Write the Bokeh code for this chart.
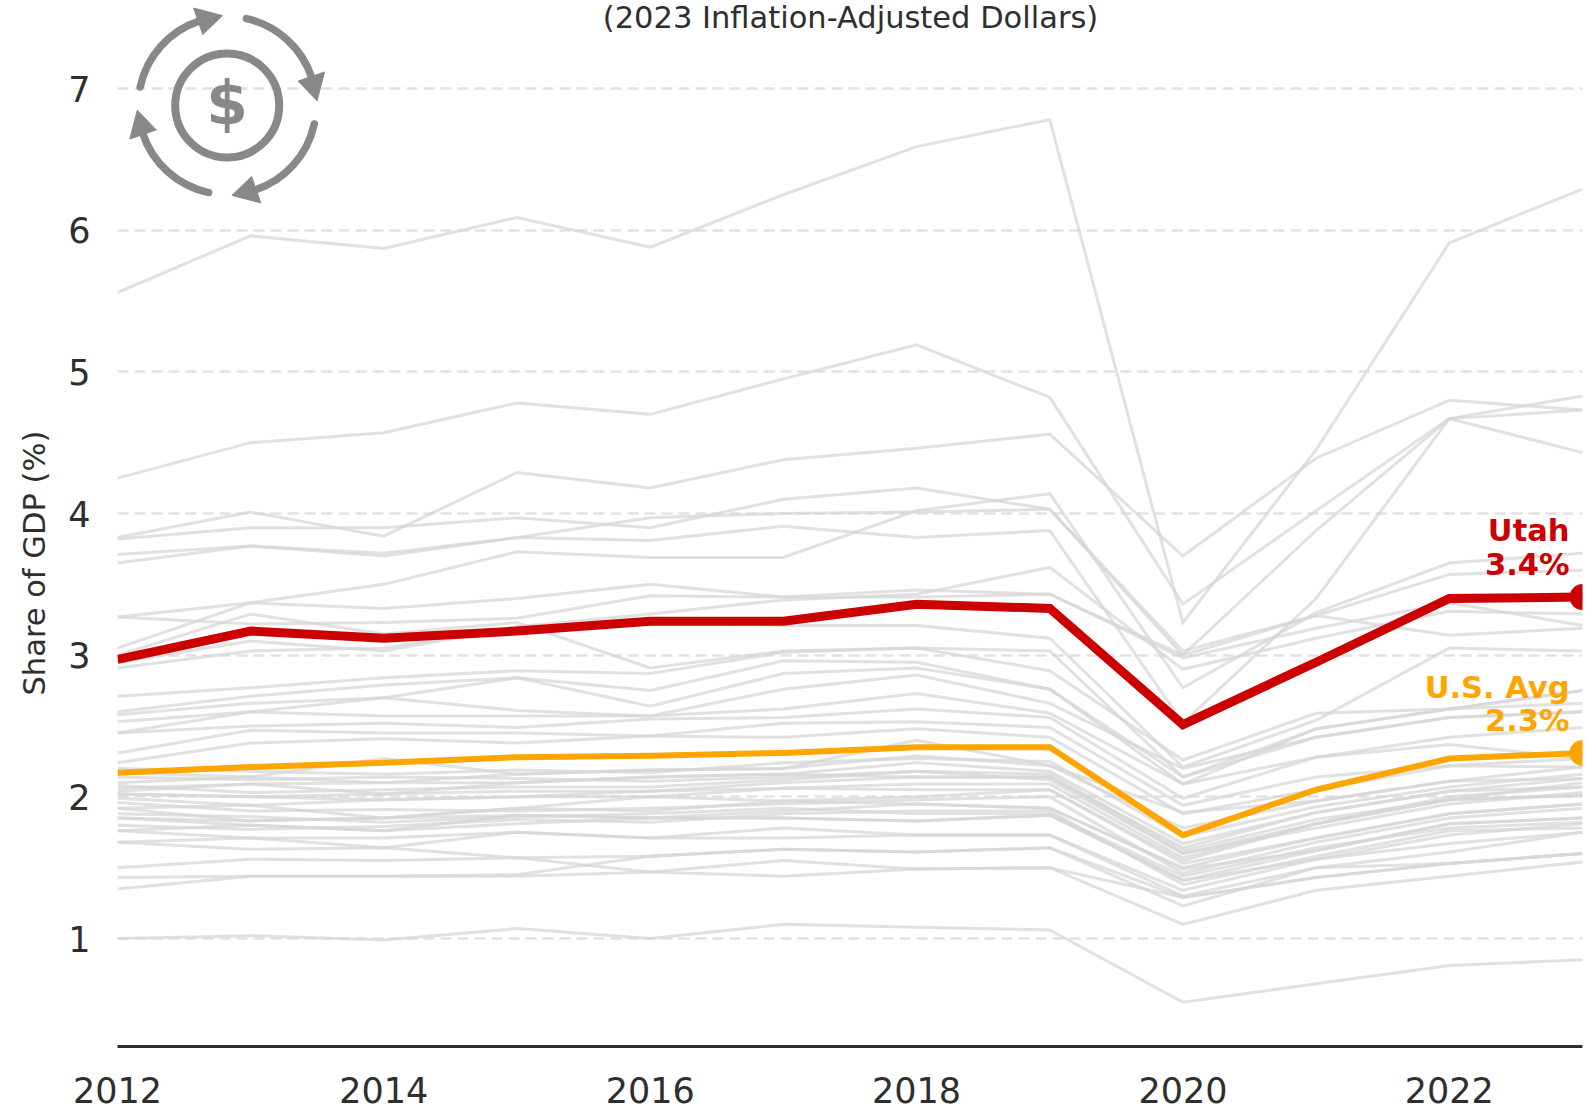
import math
from bokeh.plotting import figure
from bokeh.embed import file_html
from bokeh.resources import INLINE
from bokeh.core.properties import value
from bokeh.models import FixedTicker, Label, Title

years = [2012, 2013, 2014, 2015, 2016, 2017, 2018, 2019, 2020, 2021, 2022, 2023]
utah = [2.97, 3.17, 3.12, 3.17, 3.24, 3.24, 3.36, 3.33, 2.51, 2.95, 3.40, 3.41]
us_avg = [2.17, 2.21, 2.24, 2.28, 2.29, 2.31, 2.35, 2.35, 1.73, 2.05, 2.27, 2.31]
x_ticks = [2012, 2014, 2016, 2018, 2020, 2022]
y_ticks = [1, 2, 3, 4, 5, 6, 7]
title_text = "(2023 Inflation-Adjusted Dollars)"
y_title = "Share of GDP (%)"

s01 = [5.56, 5.96, 5.87, 6.09, 5.88, 6.25, 6.59, 6.78, 3.23, 4.45, 5.91, 6.29]
s02 = [4.25, 4.50, 4.57, 4.78, 4.70, 4.95, 5.19, 4.82, 3.36, 4.02, 4.67, 4.43]
s03 = [3.83, 4.01, 3.84, 4.29, 4.18, 4.38, 4.46, 4.56, 3.70, 4.39, 4.80, 4.73]
s04 = [3.82, 3.90, 3.90, 3.97, 3.90, 4.10, 4.18, 4.03, 3.00, 3.88, 4.67, 4.83]
s05 = [3.71, 3.77, 3.72, 3.83, 3.97, 4.00, 4.01, 4.03, 3.03, 3.28, 3.57, 3.60]
s06 = [3.65, 3.77, 3.70, 3.83, 3.81, 3.91, 3.83, 3.88, 2.52, 3.40, 4.67, 4.73]
s07 = [3.05, 3.37, 3.50, 3.73, 3.69, 3.69, 4.02, 4.14, 2.77, 3.30, 3.65, 3.72]
s08 = [3.27, 3.37, 3.33, 3.40, 3.50, 3.41, 3.46, 3.43, 2.98, 3.19, 3.37, 3.21]
s09 = [2.91, 3.03, 3.05, 3.20, 3.29, 3.39, 3.43, 3.62, 2.90, 3.12, 3.31, 3.29]
s10 = [3.27, 3.22, 3.23, 3.26, 3.42, 3.41, 3.41, 3.43, 3.00, 3.28, 3.14, 3.19]
s11 = [3.00, 3.29, 3.15, 3.23, 2.91, 3.03, 3.05, 3.03, 2.14, 2.48, 2.62, 2.75]
s12 = [2.95, 3.10, 3.03, 3.20, 3.24, 3.21, 3.21, 3.12, 2.21, 2.54, 3.05, 3.03]
s13 = [2.71, 2.77, 2.84, 2.89, 2.87, 3.02, 3.05, 2.89, 2.26, 2.59, 2.62, 2.75]
s14 = [2.60, 2.71, 2.79, 2.84, 2.75, 2.96, 2.95, 2.76, 2.09, 2.48, 2.62, 2.66]
s15 = [2.58, 2.66, 2.70, 2.84, 2.64, 2.87, 2.91, 2.76, 2.14, 2.42, 2.56, 2.60]
s16 = [2.53, 2.60, 2.70, 2.61, 2.57, 2.76, 2.86, 2.66, 2.20, 2.42, 2.56, 2.60]
s17 = [2.45, 2.60, 2.57, 2.57, 2.57, 2.62, 2.73, 2.59, 2.09, 2.28, 2.42, 2.49]
s18 = [2.45, 2.50, 2.52, 2.49, 2.55, 2.56, 2.62, 2.56, 1.99, 2.28, 2.37, 2.27]
s19 = [2.31, 2.47, 2.45, 2.45, 2.43, 2.52, 2.53, 2.49, 1.94, 2.14, 2.22, 2.21]
s20 = [2.24, 2.38, 2.41, 2.38, 2.43, 2.42, 2.48, 2.42, 1.88, 2.05, 2.22, 2.27]
s21 = [2.17, 2.14, 2.27, 2.16, 2.19, 2.20, 2.40, 2.22, 1.89, 1.97, 2.11, 2.21]
s22 = [2.10, 2.14, 2.10, 2.16, 2.19, 2.20, 2.29, 2.22, 1.78, 1.97, 2.11, 2.13]
s23 = [2.06, 2.09, 2.10, 2.10, 2.14, 2.16, 2.24, 2.18, 1.67, 1.89, 2.04, 2.13]
s24 = [2.04, 2.09, 2.02, 2.10, 2.14, 2.16, 2.14, 2.14, 1.64, 1.89, 2.04, 2.07]
s25 = [2.02, 2.00, 2.02, 2.04, 2.04, 2.10, 2.14, 2.14, 1.60, 1.81, 2.00, 2.07]
s26 = [2.02, 2.00, 1.98, 2.00, 2.04, 2.06, 2.09, 2.09, 1.57, 1.81, 1.98, 2.01]
s27 = [1.99, 1.94, 1.98, 2.00, 2.00, 2.06, 2.05, 2.05, 1.55, 1.81, 1.98, 2.01]
s28 = [1.92, 1.94, 1.85, 1.92, 2.00, 1.97, 2.00, 2.05, 1.53, 1.71, 1.88, 1.95]
s29 = [1.92, 1.83, 1.85, 1.92, 1.90, 1.97, 1.95, 1.92, 1.50, 1.71, 1.88, 1.95]
s30 = [1.85, 1.83, 1.85, 1.87, 1.85, 1.90, 1.95, 1.92, 1.49, 1.62, 1.81, 1.85]
s31 = [1.85, 1.80, 1.76, 1.87, 1.85, 1.85, 1.83, 1.87, 1.41, 1.62, 1.81, 1.85]
s32 = [1.76, 1.80, 1.76, 1.81, 1.85, 1.85, 1.83, 1.87, 1.41, 1.56, 1.73, 1.81]
s33 = [1.76, 1.71, 1.71, 1.75, 1.71, 1.78, 1.73, 1.73, 1.34, 1.56, 1.67, 1.75]
s34 = [1.68, 1.71, 1.64, 1.75, 1.71, 1.71, 1.73, 1.73, 1.30, 1.50, 1.61, 1.75]
s35 = [1.68, 1.63, 1.64, 1.57, 1.58, 1.63, 1.61, 1.64, 1.29, 1.43, 1.53, 1.60]
s36 = [1.50, 1.56, 1.55, 1.57, 1.47, 1.55, 1.49, 1.50, 1.29, 1.43, 1.53, 1.60]
s37 = [1.35, 1.44, 1.44, 1.44, 1.47, 1.44, 1.49, 1.50, 1.10, 1.34, 1.44, 1.54]
s38 = [1.43, 1.44, 1.44, 1.45, 1.58, 1.63, 1.61, 1.64, 1.23, 1.50, 1.53, 1.60]
s39 = [1.00, 1.02, 0.99, 1.07, 1.00, 1.10, 1.08, 1.06, 0.55, 0.68, 0.81, 0.85]
s40 = [2.08, 2.03, 2.05, 2.07, 2.07, 2.12, 2.18, 2.12, 1.60, 1.78, 1.95, 2.03]
s41 = [1.96, 1.90, 1.91, 1.90, 1.92, 1.95, 1.98, 2.00, 1.46, 1.68, 1.85, 1.92]
s42 = [1.80, 1.77, 1.79, 1.84, 1.82, 1.88, 1.90, 1.90, 1.38, 1.58, 1.76, 1.78]
s43 = [2.20, 2.18, 2.16, 2.19, 2.17, 2.24, 2.27, 2.25, 1.72, 1.93, 2.07, 2.16]
s44 = [2.14, 2.12, 2.14, 2.13, 2.11, 2.14, 2.18, 2.16, 1.62, 1.84, 1.98, 2.10]
s45 = [1.88, 1.86, 1.82, 1.86, 1.88, 1.92, 1.88, 1.88, 1.44, 1.64, 1.78, 1.82]
others = [s01, s02, s03, s04, s05, s06, s07, s08, s09, s10, s11, s12, s13, s14, s15,
          s16, s17, s18, s19, s20, s21, s22, s23, s24, s25, s26, s27, s28, s29, s30,
          s31, s32, s33, s34, s35, s36, s37, s38, s39, s40, s41, s42, s43, s44, s45]

RED = "#cc0000"
ORANGE = "#ffa500"
INK = "#2e2e2e"
ICON = "#888888"
FONT = "DejaVu Sans"

# frame geometry in canvas pixels
F_L, F_R, F_T, F_B = 117.0, 1582.0, 0.0, 1046.0
Y7, Y1 = 88.0, 938.0
per = (Y1 - Y7) / 6
y_top = 7 + (Y7 - F_T) / per
y_bot = 1 - (F_B - Y1) / per


def dx(px):
    return 2012 + (px - F_L) * 11 / (F_R - F_L)


def dy(py):
    return 1 + (Y1 - py) / per


p = figure(width=1587, height=1110, frame_width=int(F_R - F_L), frame_height=int(F_B - F_T),
           x_range=(2012, 2023), y_range=(y_bot, y_top), output_backend="svg",
           toolbar_location=None, min_border_left=117, min_border_right=5,
           min_border_top=0, min_border_bottom=64)
p.outline_line_color = None
p.background_fill_color = "white"
p.xgrid.visible = False
p.ygrid.grid_line_color = "#e2e2e2"
p.ygrid.grid_line_width = 2.5
p.ygrid.grid_line_dash = "11 6"
p.ygrid.ticker = FixedTicker(ticks=y_ticks)

p.xaxis.ticker = FixedTicker(ticks=x_ticks)
p.yaxis.ticker = FixedTicker(ticks=y_ticks)
for ax in (p.xaxis[0], p.yaxis[0]):
    ax.major_tick_line_color = None
    ax.minor_tick_line_color = None
    ax.major_label_text_font = FONT
    ax.major_label_text_font_size = "35px"
    ax.major_label_text_color = INK
p.xaxis.axis_line_color = INK
p.xaxis.axis_line_width = 3
p.xaxis.major_label_standoff = 24
p.yaxis.axis_line_color = None
p.yaxis.major_label_standoff = 21

# y title: a side title, measured from the frame's lower corner
p.add_layout(Title(text=y_title, align="left", offset=351, standoff=26, vertical_align="middle",
                   text_font=FONT, text_font_size="30.5px", text_font_style="normal",
                   text_color=INK), "left")

for s in others:
    p.line(years, s, line_color="#d6d6d6", line_alpha=0.72, line_width=3, line_join="miter")

p.line(years, us_avg, line_color=ORANGE, line_width=6, line_join="miter")
p.line(years, utah, line_color=RED, line_width=9, line_join="miter")
p.scatter([years[-1]], [us_avg[-1]], size=26, fill_color=ORANGE, line_color=None)
p.scatter([years[-1]], [utah[-1]], size=26, fill_color=RED, line_color=None)

# end labels
for txt, val, off, col in [("Utah", utah[-1], -67, RED), ("3.4%", utah[-1], -33, RED),
                           ("U.S. Avg", us_avg[-1], -65, ORANGE), ("2.3%", us_avg[-1], -32, ORANGE)]:
    p.text([years[-1]], [val], text=[txt], text_color=col, text_font=value(FONT),
           text_font_style="bold", text_font_size="30.5px", text_align="right",
           text_baseline="middle", x_offset=-13, y_offset=off)

# title
p.add_layout(Label(x=dx(850), y=dy(17), text=title_text, text_font=FONT, text_font_size="30.5px",
                   text_color=INK, text_align="center", text_baseline="middle"))

# cycle-of-money icon
CX, CY = 226.7, 105.0
R_OUT, R_IN = 89.0, 52.0
arcs = [(168, 108, 93), (77.5, 18, 3), (-12, -72, -87), (258, 198, 183)]
for a0, a1, tip in arcs:
    p.arc(x=[dx(CX)], y=[dy(CY)], radius=R_OUT, radius_units="screen",
          start_angle=math.radians(a1), end_angle=math.radians(a0), direction="anticlock",
          line_color=ICON, line_width=7.5, line_cap="round")
    b = math.radians(a1 + 1)
    t = math.radians(tip)
    bx, by = CX + R_OUT * math.cos(b), CY - R_OUT * math.sin(b)
    tx, ty = CX + (R_OUT + 1) * math.cos(t), CY - (R_OUT + 1) * math.sin(t)
    nx, ny = math.cos(b), -math.sin(b)
    hw = 14
    p.patch([dx(tx), dx(bx + nx * hw), dx(bx - nx * hw)],
            [dy(ty), dy(by + ny * hw), dy(by - ny * hw)], fill_color=ICON, line_color=ICON, line_width=1)
p.circle(x=[dx(CX)], y=[dy(CY)], radius=R_IN, radius_units="screen", fill_color=None,
         line_color=ICON, line_width=8)
p.text([dx(CX)], [dy(CY - 3)], text=["$"], text_color=ICON, text_font=value(FONT),
       text_font_style="bold", text_font_size="60px", text_align="center", text_baseline="middle")

open("out.html", "w").write(file_html(p, INLINE))
